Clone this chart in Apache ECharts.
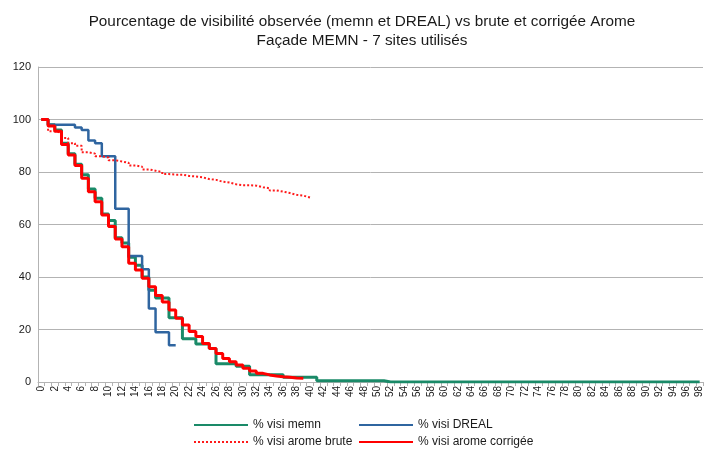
<!DOCTYPE html>
<html><head><meta charset="utf-8">
<script src="https://cdn.jsdelivr.net/npm/echarts@6/dist/echarts.min.js"></script>
<style>html,body{margin:0;padding:0;background:#fff}#c{width:705px;height:451px}</style>
</head><body><div id="c"></div>
<script>
const categories = [0,1,2,3,4,5,6,7,8,9,10,11,12,13,14,15,16,17,18,19,20,21,22,23,24,25,26,27,28,29,30,31,32,33,34,35,36,37,38,39,40,41,42,43,44,45,46,47,48,49,50,51,52,53,54,55,56,57,58,59,60,61,62,63,64,65,66,67,68,69,70,71,72,73,74,75,76,77,78,79,80,81,82,83,84,85,86,87,88,89,90,91,92,93,94,95,96,97,98];
const seriesNames = ['% visi memn', '% visi DREAL', '% visi arome brute', '% visi arome corrigée'];
const visiMemn = [100,98,96,91,87,83,79,73.5,70,64,61.5,55,53,47.5,44.5,40,35,32,32,24.5,24.5,16.5,16.5,14.5,14.5,12.8,7,7,7,6,6,2.8,2.8,2.8,2.8,2.8,1.8,1.8,1.8,1.8,1.8,0.5,0.5,0.5,0.5,0.5,0.5,0.5,0.5,0.5,0.5,0,0,0,0,0,0,0,0,0,0,0,0,0,0,0,0,0,0,0,0,0,0,0,0,0,0,0,0,0,0,0,0,0,0,0,0,0,0,0,0,0,0,0,0,0,0,0,0];
const visiDreal = [100,98,98,98,98,97,96,92,91,86,86,66,66,48,48,43,28,19,19,14,14];
const visiAromeBrute = [100,95.5,95,93,91,90,87.5,87,86,85.5,84.5,84,83.5,82.5,82,81,80.5,80,79.2,79,79,78.5,78.3,78,77.3,77,76.3,76,75.3,75,75,74.8,74.2,73.8,73,72.5,72,71.3,71,70.3,70];
const visiAromeCorrigee = [100,97.5,95.5,90.5,86.5,82.5,77.6,72.5,68.7,63.6,59.2,54.5,51.5,45.2,42.7,39.5,36.3,33,30.5,27.4,24.3,21.7,19.2,17.3,14.7,12.8,10.9,9,7.7,6.5,5.2,4.2,3.3,2.7,2.3,2.0,1.8,1.5,1.4,1.3];
const yTicks = {min: 0, max: 120, interval: 20};
const titleLines = ['Pourcentage de visibilité observée (memn et DREAL) vs brute et corrigée Arome', 'Façade MEMN - 7 sites utilisés'];

const FONT = '"Liberation Sans", Arial, sans-serif';
const chart = echarts.init(document.getElementById('c'), null, {renderer: 'canvas'});
const legendText = {fontFamily: FONT, fontSize: 12, color: '#1a1a1a'};
const legendBase = {orient: 'vertical', top: 419, itemGap: 5, itemWidth: 54, itemHeight: 14, textStyle: legendText, padding: 0, itemStyle: {opacity: 0}};
chart.setOption({
  animation: false,
  backgroundColor: '#fff',
  title: {
    text: titleLines.join('\n'), left: 362, top: 12, textAlign: 'center', padding: 0,
    textStyle: {fontFamily: FONT, fontSize: 15.3, fontWeight: 'normal', color: '#1a1a1a', lineHeight: 19}
  },
  legend: [
    Object.assign({data: [seriesNames[0], seriesNames[2]], left: 193}, legendBase),
    Object.assign({data: [seriesNames[1], seriesNames[3]], left: 358}, legendBase)
  ],
  grid: {left: 38, right: 2, top: 67, bottom: 69, containLabel: false},
  xAxis: {
    type: 'category', data: categories, boundaryGap: true,
    axisLine: {lineStyle: {color: '#b3b3b3'}},
    axisTick: {show: true, interval: 0, length: 4, lineStyle: {color: '#b3b3b3'}},
    axisLabel: {interval: 1, rotate: 90, fontFamily: FONT, fontSize: 10, color: '#1a1a1a', margin: 4},
    splitLine: {show: false}
  },
  yAxis: {
    type: 'value', min: yTicks.min, max: yTicks.max, interval: yTicks.interval,
    axisLine: {show: true, lineStyle: {color: '#b3b3b3'}},
    axisTick: {show: false},
    axisLabel: {fontFamily: FONT, fontSize: 11, color: '#1a1a1a', margin: 7},
    splitLine: {lineStyle: {color: '#b3b3b3', width: 1}}
  },
  series: [
    {name: seriesNames[0], type: 'line', step: 'end', data: visiMemn, symbol: 'none', color: '#1a8a68', lineStyle: {width: 3, color: '#1a8a68'}},
    {name: seriesNames[1], type: 'line', step: 'end', data: visiDreal, symbol: 'none', color: '#2f65a0', lineStyle: {width: 2.5, color: '#2f65a0'}},
    {name: seriesNames[2], type: 'line', step: 'end', data: visiAromeBrute, symbol: 'none', color: '#ff1a1a', lineStyle: {width: 2, color: '#ff1a1a', type: [2, 2]}},
    {name: seriesNames[3], type: 'line', step: 'end', data: visiAromeCorrigee, symbol: 'none', color: '#ff0000', lineStyle: {width: 3, color: '#ff0000'}}
  ]
});
</script></body></html>
